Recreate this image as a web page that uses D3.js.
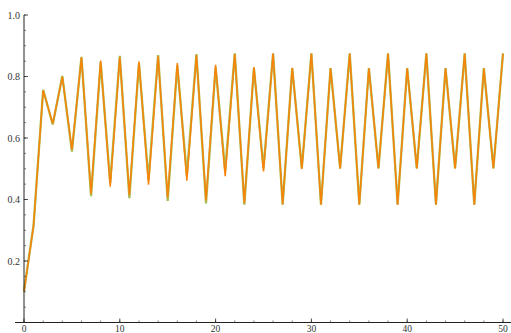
<!DOCTYPE html>
<html><head><meta charset="utf-8">
<script src="https://cdn.jsdelivr.net/npm/d3@7"></script>
<style>body{margin:0;background:#fff}svg{display:block}</style>
</head><body>
<svg id="c" width="511" height="333"></svg>
<script>
const steps = d3.range(0, 51);
const seriesOrange = [0.100,0.315,0.755,0.647,0.799,0.562,0.862,0.418,0.852,0.442,0.863,0.414,0.849,0.448,0.866,0.406,0.844,0.461,0.870,0.397,0.838,0.476,0.873,0.388,0.831,0.491,0.875,0.384,0.828,0.499,0.875,0.383,0.827,0.500,0.875,0.383,0.827,0.501,0.875,0.383,0.827,0.501,0.875,0.383,0.827,0.501,0.875,0.383,0.827,0.501,0.875];
const seriesGreen  = [0.101,0.317,0.757,0.644,0.802,0.556,0.864,0.411,0.847,0.454,0.867,0.404,0.843,0.463,0.870,0.395,0.836,0.479,0.873,0.387,0.830,0.494,0.875,0.383,0.827,0.501,0.875,0.383,0.827,0.501,0.875,0.383,0.827,0.501,0.875,0.383,0.827,0.501,0.875,0.383,0.827,0.501,0.875,0.383,0.827,0.501,0.875,0.383,0.827,0.501,0.875];
const xMajor = [0,10,20,30,40,50];
const xMinor = d3.range(0, 51, 2);
const yMajor = [0.2,0.4,0.6,0.8,1.0];
const yMinor = d3.range(0.05, 1.0001, 0.05);

const svg = d3.select("#c");
const x = d3.scaleLinear().domain([0,50]).range([24,503]);
const y = d3.scaleLinear().domain([0,1]).range([322.5,15]);

const line = d3.line().x((d,i)=>x(steps[i])).y(d=>y(d));
svg.append("path").datum(seriesGreen).attr("d", line)
  .attr("fill","none").attr("stroke","#a8bf55").attr("stroke-width",2.3).attr("stroke-linejoin","miter");
svg.append("path").datum(seriesOrange).attr("d", line)
  .attr("fill","none").attr("stroke","#f7830a").attr("stroke-width",1.5).attr("stroke-linejoin","miter");

// axes
const ax = svg.append("g");
ax.append("line").attr("x1",15).attr("x2",511).attr("y1",y(0)).attr("y2",y(0)).attr("stroke","#222").attr("stroke-width",1);
ax.append("line").attr("x1",x(0)).attr("x2",x(0)).attr("y1",y(1)).attr("y2",y(0)).attr("stroke","#222").attr("stroke-width",1);
xMinor.forEach(v=>ax.append("line").attr("x1",x(v)).attr("x2",x(v)).attr("y1",y(0)).attr("y2",y(0)-2).attr("stroke","#444").attr("stroke-width",0.7));
xMajor.forEach(v=>ax.append("line").attr("x1",x(v)).attr("x2",x(v)).attr("y1",y(0)).attr("y2",y(0)-4).attr("stroke","#222").attr("stroke-width",0.8));
yMinor.forEach(v=>ax.append("line").attr("x1",x(0)).attr("x2",x(0)+2).attr("y1",y(v)).attr("y2",y(v)).attr("stroke","#444").attr("stroke-width",0.7));
yMajor.forEach(v=>ax.append("line").attr("x1",x(0)).attr("x2",x(0)+4).attr("y1",y(v)).attr("y2",y(v)).attr("stroke","#222").attr("stroke-width",0.8));
xMajor.forEach(v=>ax.append("text").attr("x",x(v)).attr("y",332).attr("text-anchor","middle")
  .attr("font-family","Liberation Serif").attr("font-size",9.5).attr("fill","#333").text(v));
yMajor.forEach(v=>ax.append("text").attr("x",20).attr("y",y(v)+3.5).attr("text-anchor","end")
  .attr("font-family","Liberation Serif").attr("font-size",10).attr("fill","#333").text(v.toFixed(1)));
</script>
</body></html>
